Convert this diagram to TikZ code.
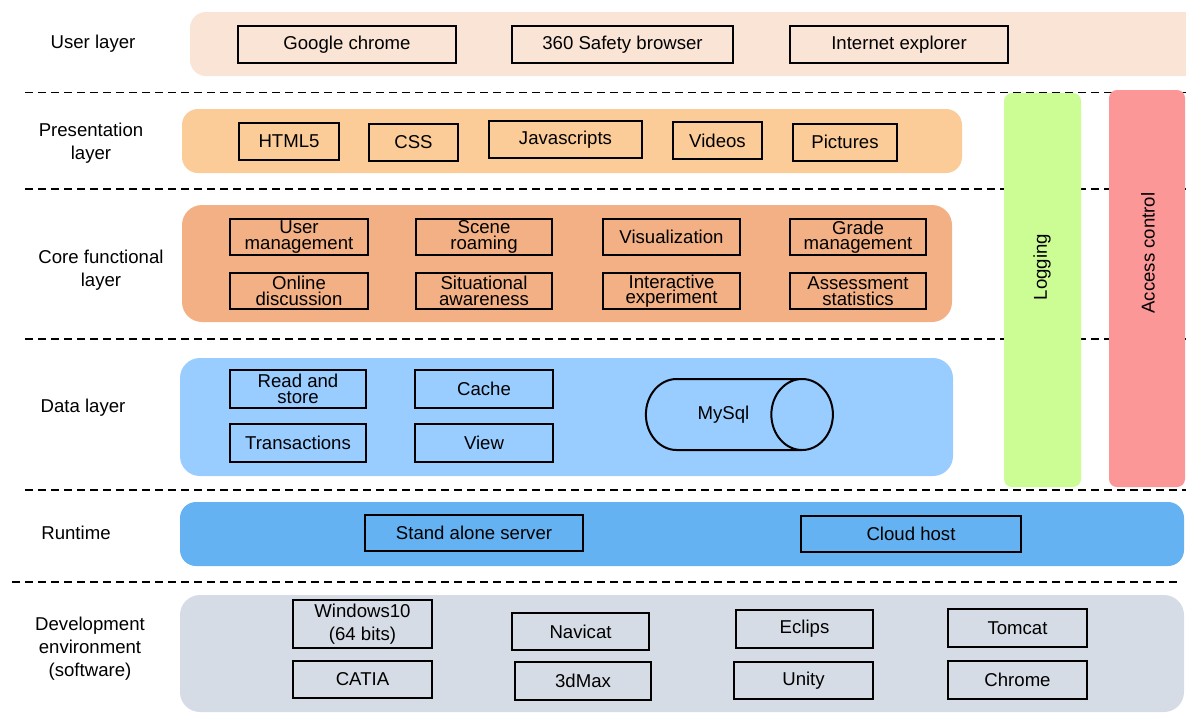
\documentclass[tikz,border=0pt]{standalone}
\usepackage{fontspec}
\setmainfont{Liberation Sans}
\usetikzlibrary{shapes.geometric}

\definecolor{userband}{RGB}{249,228,214}
\definecolor{presband}{RGB}{251,203,152}
\definecolor{coreband}{RGB}{242,176,132}
\definecolor{databand}{RGB}{153,204,255}
\definecolor{runband}{RGB}{100,178,242}
\definecolor{devband}{RGB}{214,220,229}
\definecolor{logband}{RGB}{204,252,148}
\definecolor{accband}{RGB}{252,151,151}

\tikzset{
  box/.style={draw, line width=1pt, inner sep=0pt, align=center,
    minimum height=18.5pt, font=\fontsize{9.3}{7.8}\selectfont},
  layername/.style={align=center, font=\fontsize{9.3}{11.5}\selectfont},
  divider/.style={line width=0.8pt, dash pattern=on 4pt off 2.5pt},
}

\begin{document}
\begin{tikzpicture}[x=0.5pt,y=-0.5pt]
      \useasboundingbox (0,0) rectangle (1186,713);
      \clip (0,0) rectangle (1186,713);
      % layer dividers
      \draw[divider] (25,92.5) -- (1186,92.5);
      \draw[divider] (25,189) -- (1186,189);
      \draw[divider] (25,339) -- (1186,339);
      \draw[divider] (25,490) -- (1186,490);
      \draw[divider] (12,582) -- (1180,582);
      % bands
      \fill[userband,rounded corners=8pt] (190,12) rectangle (1200,76);% User
      \fill[presband,rounded corners=8pt] (182,109) rectangle (962,173);% Presentation
      \fill[coreband,rounded corners=10pt] (182,205) rectangle (952,322);% Core
      \fill[databand,rounded corners=10pt] (180,358) rectangle (953,476);% Data
      \fill[runband,rounded corners=8pt] (180,502) rectangle (1184,566);% Runtime
      \fill[devband,rounded corners=10pt] (180,595) rectangle (1184,712);% Development
      \fill[logband,rounded corners=4pt] (1004,93) rectangle (1081,487);% Logging
      \fill[accband,rounded corners=4pt] (1109,90) rectangle (1185,487);% Access control
      \node[rotate=90,font=\fontsize{9.3}{11}\selectfont] (logging) at (1042,267) {Logging};
      \node[rotate=90,font=\fontsize{9.3}{11}\selectfont] (access) at (1148,253) {Access control};
      % layer names
      \node[layername] (userl) at (93,44) {User layer};
      \node[layername] (presl) at (91,143) {Presentation\\layer};
      \node[layername] (corel) at (101,270) {Core functional\\layer};
      \node[layername] (datal) at (83,408) {Data layer};
      \node[layername] (runl) at (76,533) {Runtime};
      \node[layername] (devl) at (90,649) {Development\\environment\\(software)};
      % user layer
      \node[box,minimum width=109pt] (chrome) at (347,44.5) {Google chrome};
      \node[box,minimum width=110.5pt] (safety) at (622.5,44.5) {360 Safety browser};
      \node[box,minimum width=109pt] (explorer) at (899,44.5) {Internet explorer};
      % presentation layer
      \node[box,minimum width=50pt] (html) at (289,141.5) {HTML5};
      \node[box,minimum width=44.5pt] (css) at (413.5,142) {CSS};
      \node[box,minimum width=76.5pt] (js) at (565.5,139.5) {Javascripts};
      \node[box,minimum width=44.5pt] (videos) at (717.5,140.5) {Videos};
      \node[box,minimum width=52pt] (pictures) at (845,142) {Pictures};
      % core functional layer
      \node[box,minimum width=69pt,minimum height=18pt] (usermg) at (299,237) {User\\management};
      \node[box,minimum width=68pt,minimum height=18pt] (scene) at (484,237) {Scene\\roaming};
      \node[box,minimum width=68.5pt,minimum height=18pt] (visual) at (671.5,237) {Visualization};
      \node[box,minimum width=68pt,minimum height=18pt] (grade) at (858,237) {Grade\\management};
      \node[box,minimum width=69pt,minimum height=18pt] (online) at (299,291) {Online\\discussion};
      \node[box,minimum width=68pt,minimum height=18pt] (situ) at (484,291) {Situational\\awareness};
      \node[box,minimum width=68.5pt,minimum height=18pt] (inter) at (671.5,291) {Interactive\\experiment};
      \node[box,minimum width=68pt,minimum height=18pt] (assess) at (858,291) {Assessment\\statistics};
      % data layer
      \node[box,minimum width=68pt,minimum height=19pt] (readst) at (298,389) {Read and\\store};
      \node[box,minimum width=69pt,minimum height=19pt] (cache) at (484,389) {Cache};
      \node[box,minimum width=68pt,minimum height=19pt] (trans) at (298,443) {Transactions};
      \node[box,minimum width=69pt,minimum height=19pt] (view) at (484,443) {View};
      \node[cylinder,draw,line width=1pt,shape aspect=3.55,inner sep=0pt,
            minimum height=93.5pt,minimum width=35.5pt,
            font=\fontsize{9.3}{11}\selectfont] (mysql) at (723.5,414.5) {MySql};
      % runtime
      \node[box,minimum width=109pt,minimum height=18pt] (server) at (474,533) {Stand alone server};
      \node[box,minimum width=110pt,minimum height=18pt] (cloud) at (911,534) {Cloud host};
      % development environment
      \node[box,minimum width=69.5pt,minimum height=24pt,
            font=\fontsize{9.3}{11.5}\selectfont] (windows) at (362.5,624) {Windows10\\(64 bits)};
      \node[box,minimum width=68.5pt] (navicat) at (580.5,631.5) {Navicat};
      \node[box,minimum width=68.5pt,minimum height=19pt] (eclips) at (804.5,629) {Eclips};
      \node[box,minimum width=69.5pt,minimum height=19pt] (tomcat) at (1017.5,628) {Tomcat};
      \node[box,minimum width=69.5pt] (catia) at (362.5,679.5) {CATIA};
      \node[box,minimum width=68pt,minimum height=19pt] (max) at (583,681) {3dMax};
      \node[box,minimum width=69.5pt] (unity) at (803.5,680.5) {Unity};
      \node[box,minimum width=69.5pt,minimum height=19pt] (chromedev) at (1017.5,680) {Chrome};
    \end{tikzpicture}
\end{document}
